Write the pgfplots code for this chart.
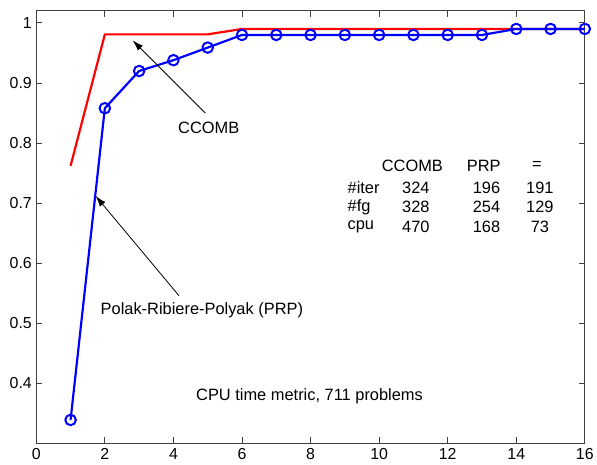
\documentclass[border=0pt]{standalone}
\usepackage{pgfplots}
\pgfplotsset{compat=1.18}
\usepackage{fontspec}
\setmainfont{Liberation Sans}
\usetikzlibrary{arrows.meta}
\definecolor{axgray}{RGB}{64,64,64}
\newcommand{\fs}{\fontsize{16.5}{19}\selectfont}
\begin{document}
\begin{tikzpicture}
\begin{axis}[
  name=ax,
  scale only axis,
  width=551.8pt, height=435pt,
  xmin=0, xmax=16, ymin=0.3, ymax=1.02,
  xtick={0,2,...,16},
  ytick={0.4,0.5,0.6,0.7,0.8,0.9,1},
  tick align=inside,
  major tick length=6pt,
  axis line style={axgray, line width=0.9pt},
  every tick/.style={axgray, line width=0.9pt},
  tick label style={font=\fontsize{16}{19}\selectfont, text=black},
  /pgf/number format/assume math mode=true,
  xticklabel style={yshift=-2pt},
  yticklabel style={xshift=-1pt},
  clip=false,
]
\addplot[red, line width=2.2pt, line join=round] coordinates {
(1,0.762) (2,0.981) (3,0.981) (4,0.981) (5,0.981) (6,0.990) (7,0.990) (8,0.990)
(9,0.990) (10,0.990) (11,0.990) (12,0.990) (13,0.990) (14,0.990) (15,0.990) (16,0.990)};
\addplot[blue, line width=2.2pt, line join=round, mark=o, mark size=5.3pt,
  mark options={line width=2pt}] coordinates {
(1,0.339) (2,0.858) (3,0.920) (4,0.938) (5,0.959) (6,0.980) (7,0.980) (8,0.980)
(9,0.980) (10,0.980) (11,0.980) (12,0.980) (13,0.980) (14,0.990) (15,0.990) (16,0.990)};
% annotations
\draw[black, line width=0.8pt, -{Latex[length=11pt,width=7pt]}] (axis cs:4.93,0.850) -- (axis cs:2.81,0.971);
\node[font=\fs] at (axis cs:5.03,0.825) {CCOMB};
\draw[black, line width=0.8pt, -{Latex[length=11pt,width=7pt]}] (axis cs:4.16,0.546) -- (axis cs:1.73,0.712);
\node[font=\fs] at (axis cs:4.83,0.521) {Polak-Ribiere-Polyak (PRP)};
\node[font=\fs] at (axis cs:7.97,0.378) {CPU time metric, 711 problems};
% table
\begin{scope}[every node/.style={font=\fs}]
\node at (axis cs:10.97,0.762) {CCOMB};
\node at (axis cs:13.05,0.762) {PRP};
\node at (axis cs:14.6,0.762) {=};
\node[anchor=west] at (axis cs:8.98,0.726) {\#iter};
\node[anchor=west] at (axis cs:8.98,0.693) {\#fg};
\node[anchor=west] at (axis cs:8.98,0.660) {cpu};
\node at (axis cs:11.07,0.726) {324};
\node at (axis cs:11.07,0.693) {328};
\node at (axis cs:11.07,0.660) {470};
\node at (axis cs:13.13,0.726) {196};
\node at (axis cs:13.13,0.693) {254};
\node at (axis cs:13.13,0.660) {168};
\node at (axis cs:14.69,0.726) {191};
\node at (axis cs:14.69,0.693) {129};
\node at (axis cs:14.69,0.660) {73};
\end{scope}
\end{axis}
\path ([xshift=-36.5pt,yshift=-21pt]ax.south west) rectangle ([xshift=8.7pt,yshift=11pt]ax.north east);
\end{tikzpicture}
\end{document}
